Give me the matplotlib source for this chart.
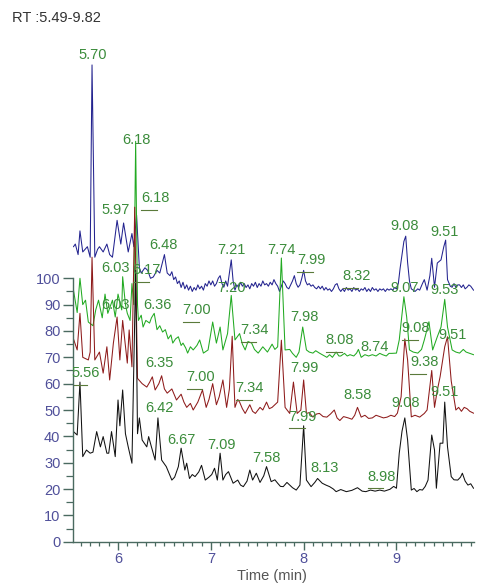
import numpy as np
import matplotlib
matplotlib.use('Agg')
import matplotlib.pyplot as plt

# retention time window shown on the x axis
rt_min, rt_max = 5.515, 9.83

# --- traces (time in min, relative abundance) ---
blue_t = [5.52, 5.54, 5.57, 5.59, 5.62, 5.67, 5.70, 5.72, 5.75, 5.78, 5.80, 5.84, 5.88, 5.91, 5.94, 5.99,
          6.03, 6.06, 6.11, 6.15, 6.17, 6.20, 6.23, 6.25, 6.29, 6.32, 6.35, 6.38, 6.42, 6.45, 6.50,
          6.53, 6.56, 6.58, 6.60, 6.62, 6.64, 6.66, 6.68, 6.70, 6.72, 6.74, 6.76, 6.78, 6.80, 6.82, 6.84,
          6.86, 6.88, 6.90, 6.92, 6.94, 6.96, 6.98, 7.00, 7.02, 7.04, 7.06, 7.08, 7.10, 7.12, 7.14, 7.16,
          7.18, 7.20, 7.22, 7.24, 7.26, 7.28, 7.30, 7.32, 7.34, 7.36, 7.38, 7.40, 7.42, 7.44, 7.46, 7.48,
          7.50, 7.52, 7.54, 7.56, 7.58, 7.60, 7.62, 7.64, 7.66, 7.68, 7.70, 7.72, 7.74, 7.76, 7.78, 7.80,
          7.82, 7.84, 7.86, 7.88, 7.90, 7.92, 7.94, 7.96, 7.98, 8.00, 8.02, 8.04, 8.06, 8.08, 8.10, 8.12,
          8.14, 8.16, 8.18, 8.20, 8.22, 8.24, 8.26, 8.28, 8.30, 8.32, 8.34, 8.36, 8.38, 8.40, 8.42, 8.44,
          8.46, 8.48, 8.50, 8.52, 8.54, 8.56, 8.58, 8.60, 8.62, 8.64, 8.66, 8.68, 8.70, 8.72, 8.74, 8.76,
          8.78, 8.80, 8.82, 8.84, 8.86, 8.88, 8.90, 8.92, 8.94, 8.96, 8.98, 9.00, 9.02, 9.04, 9.06, 9.08,
          9.10, 9.12, 9.14, 9.16, 9.20, 9.23, 9.25, 9.28, 9.30, 9.33, 9.36, 9.38, 9.41, 9.44, 9.48, 9.51,
          9.53, 9.55, 9.58, 9.60, 9.62, 9.64, 9.66, 9.68, 9.70, 9.72, 9.74, 9.76, 9.78, 9.80, 9.83]
blue_v = [112, 113, 109, 118, 110, 112, 108, 181, 108, 111, 112, 110, 113, 109, 108, 122,
          113, 121, 110, 117, 112, 124, 104, 102, 104, 103, 100, 100.5, 103, 102, 109,
          102, 101, 102.5, 99.5, 100.5, 98, 99, 96.5, 98.5, 96, 97.5, 95.5, 97, 95, 96.5, 95.5,
          97.5, 96, 97, 95.5, 98, 97, 99, 97.5, 99, 97, 98, 100, 101, 98, 96.6, 99,
          97, 102, 107, 99, 95.5, 97.5, 96.5, 98.5, 97, 98, 96.5, 97.5, 96, 98, 97, 98.5,
          96.5, 98, 97, 99, 97.5, 98, 97, 98.5, 97.5, 99.5, 98, 97, 95, 97, 99, 98,
          96.5, 96, 97.5, 99, 101, 98, 96.6, 97.5, 100, 103, 99, 97.5, 98, 97, 97.5, 96.5,
          96, 97, 96, 97, 95.5, 96.5, 95.5, 96, 95, 96, 97.5, 98, 96, 95, 96, 95,
          96.5, 95.5, 96, 95, 96.5, 95.5, 96, 95, 96, 95.5, 96.5, 95, 96, 95, 96.5, 95.5,
          96, 95, 96, 95.5, 96, 95, 96, 95.5, 96, 95.5, 96.5, 96, 98, 104, 109, 114,
          116, 106, 99, 96, 95, 96, 95.5, 98, 99.5, 95.5, 101, 107.6, 96.6, 105.8, 107, 112,
          114.5, 99.5, 97, 96.6, 98, 96.5, 97.5, 97.5, 96.5, 97.5, 96, 96.6, 97.5, 97, 95.5]

green_t = [5.52, 5.56, 5.59, 5.62, 5.65, 5.68, 5.73, 5.76, 5.79, 5.83, 5.86, 5.89, 5.94, 5.97, 6.00, 6.04,
           6.05, 6.08, 6.10, 6.13, 6.15, 6.17, 6.19, 6.21, 6.22, 6.25, 6.27, 6.30, 6.34, 6.36, 6.39, 6.42,
           6.45, 6.48, 6.51, 6.54, 6.57, 6.59, 6.62, 6.65, 6.68, 6.70, 6.73, 6.75, 6.78, 6.81, 6.85, 6.88,
           6.92, 6.97, 7.02, 7.06, 7.10, 7.13, 7.18, 7.22, 7.26, 7.31, 7.34, 7.37, 7.40, 7.44, 7.47, 7.51,
           7.56, 7.61, 7.66, 7.69, 7.72, 7.76, 7.80, 7.85, 7.88, 7.92, 7.95, 7.99, 8.03, 8.06, 8.10, 8.13,
           8.17, 8.21, 8.25, 8.28, 8.31, 8.35, 8.38, 8.40, 8.44, 8.47, 8.50, 8.54, 8.57, 8.59, 8.62, 8.66,
           8.70, 8.74, 8.78, 8.82, 8.85, 8.89, 8.92, 8.95, 9.00, 9.03, 9.08, 9.11, 9.14, 9.18, 9.23, 9.27,
           9.30, 9.35, 9.39, 9.44, 9.48, 9.52, 9.55, 9.60, 9.64, 9.68, 9.72, 9.75, 9.79, 9.83]
green_v = [95.5, 87, 100, 90, 91.7, 83.4, 82, 88, 91.7, 85, 94, 86.7, 91.7, 85.3, 94, 88,
           100.6, 90, 86.7, 84, 98, 90, 152, 90, 84, 86, 81.5, 84, 83, 85, 86.7, 80.5,
           82, 79.6, 80.5, 77, 78.5, 75.4, 77, 77.8, 74.5, 75.4, 73.5, 71.6, 74, 72.8, 74.5, 76.6,
           71.6, 72.8, 83.4, 75.4, 81.5, 72.8, 79, 93.5, 76.6, 79, 75, 72.8, 76, 75.4, 73, 71.6,
           74, 72, 75, 73, 74, 107.7, 72.8, 73, 71.5, 70, 72, 81.5, 72.8, 72, 71.6, 72.5,
           71.6, 70.8, 70, 71, 70, 72, 70.5, 70.5, 71.5, 70.5, 71, 70.5, 71.6, 73, 70, 71,
           70.5, 71, 70.5, 71.5, 71, 70.5, 71.5, 71.5, 71.6, 76.6, 93, 85.3, 72.8, 72, 71.6, 73,
           76.6, 83.5, 72.8, 77.8, 81.5, 92, 81.5, 72.8, 72, 71.6, 73, 72, 71.5, 71]

red_t = [5.52, 5.56, 5.59, 5.62, 5.68, 5.70, 5.72, 5.75, 5.80, 5.84, 5.88, 5.91, 5.95, 5.99, 6.02, 6.05,
         6.10, 6.12, 6.15, 6.18, 6.21, 6.26, 6.31, 6.34, 6.37, 6.40, 6.44, 6.47, 6.50, 6.53, 6.58, 6.63,
         6.68, 6.71, 6.74, 6.78, 6.81, 6.86, 6.91, 6.95, 6.98, 7.02, 7.06, 7.09, 7.13, 7.17, 7.20, 7.23,
         7.26, 7.29, 7.31, 7.34, 7.37, 7.42, 7.45, 7.48, 7.53, 7.56, 7.60, 7.63, 7.66, 7.72, 7.76, 7.80,
         7.85, 7.89, 7.93, 7.97, 8.00, 8.03, 8.06, 8.10, 8.14, 8.17, 8.21, 8.25, 8.29, 8.33, 8.36, 8.39,
         8.43, 8.48, 8.52, 8.55, 8.58, 8.62, 8.66, 8.70, 8.74, 8.78, 8.82, 8.86, 8.90, 8.94, 8.98, 9.01,
         9.05, 9.09, 9.12, 9.16, 9.20, 9.25, 9.30, 9.33, 9.38, 9.41, 9.44, 9.47, 9.52, 9.55, 9.59, 9.64,
         9.67, 9.70, 9.73, 9.76, 9.79, 9.83]
red_v = [77, 72.8, 86.7, 70, 69, 72, 108, 69, 72, 64, 74, 61.4, 75.4, 85.3, 69, 84,
         67.8, 80.4, 66.4, 127, 62, 60, 58.7, 60.5, 62.6, 57.6, 60, 63, 58, 56.4, 58, 53.8,
         56, 53, 51, 52.5, 50, 53, 57.6, 51, 54, 60, 52, 55, 61.4, 51, 58, 78,
         51, 54, 53, 50.5, 48.7, 52, 49.5, 48.7, 51, 50, 53, 50.5, 51, 53, 76.5, 51,
         48.7, 60.6, 48.7, 50, 61.4, 48.7, 49, 47.3, 48.5, 48.7, 47.5, 47.3, 48.5, 50, 47, 46,
         47.5, 47, 46.5, 48, 51, 47.3, 48, 46.8, 47, 48, 47.5, 47, 47.3, 48, 47.5, 48.8,
         55, 77, 69, 47.4, 48, 47.3, 48.7, 50, 65, 51, 57.5, 62.6, 74, 77.8, 61, 50,
         51, 49.5, 51, 50.5, 49.5, 48.8]

black_t = [5.52, 5.56, 5.59, 5.62, 5.66, 5.70, 5.73, 5.77, 5.81, 5.84, 5.88, 5.90, 5.93, 5.97, 6.00, 6.02,
           6.05, 6.08, 6.11, 6.15, 6.19, 6.21, 6.23, 6.26, 6.31, 6.33, 6.36, 6.40, 6.43, 6.47, 6.52, 6.58,
           6.61, 6.65, 6.68, 6.72, 6.74, 6.77, 6.80, 6.83, 6.87, 6.90, 6.94, 6.98, 7.01, 7.04, 7.07, 7.10,
           7.13, 7.16, 7.19, 7.24, 7.29, 7.32, 7.35, 7.39, 7.42, 7.45, 7.49, 7.53, 7.57, 7.60, 7.65, 7.69,
           7.72, 7.75, 7.78, 7.82, 7.85, 7.88, 7.92, 7.96, 8.00, 8.03, 8.08, 8.12, 8.15, 8.20, 8.24, 8.28,
           8.32, 8.35, 8.40, 8.46, 8.52, 8.58, 8.63, 8.67, 8.72, 8.77, 8.82, 8.87, 8.93, 8.97, 9.00, 9.03,
           9.06, 9.09, 9.12, 9.16, 9.19, 9.22, 9.25, 9.28, 9.31, 9.34, 9.38, 9.41, 9.43, 9.47, 9.50, 9.52,
           9.55, 9.59, 9.62, 9.66, 9.69, 9.71, 9.74, 9.77, 9.80, 9.83]
black_v = [41.8, 40.5, 60.6, 32.3, 34.8, 33.6, 34, 41.8, 36, 39.9, 33.6, 33.6, 41.8, 32.3, 53.8, 44,
           57.6, 41, 36, 29.8, 103, 41, 47, 38.6, 36, 39.9, 36, 31, 47, 31, 28.5, 23.4,
           24.5, 28.5, 35.5, 27.2, 29.8, 24, 25.5, 24.7, 26.5, 29, 23.4, 24.5, 25.5, 27.9, 23.4, 33.6,
           23.4, 25.5, 26.6, 22.2, 23.4, 21.5, 20.9, 23, 27.2, 23.4, 26, 22.5, 25, 28.5, 22.8, 23.5,
           22.2, 21, 20.9, 22.5, 21.5, 20.5, 19.6, 21.5, 44, 23.4, 20.9, 22.5, 24, 22.2, 21.5, 20.9,
           20, 19, 19.8, 19, 19.5, 20.5, 19.2, 19, 19.6, 19.2, 19.6, 19.2, 19.9, 21, 20.3, 33.6,
           42, 47, 38.6, 19.6, 20.2, 19, 19.8, 19.6, 21, 23.4, 40.5, 34.8, 20.3, 37.4, 37.4, 53,
           36, 24.7, 23.5, 23.4, 24.5, 26, 23, 21.5, 22, 20.3]

# --- peak labels ---
lbl_text = ['5.70', '6.18', '5.97', '6.18', '6.48', '7.21', '7.74', '7.99', '8.32', '9.08', '9.51',
            '6.03', '6.17', '7.20', '9.07', '9.53',
            '6.03', '6.36', '7.00', '7.34', '7.98', '8.08', '8.74', '9.08', '9.51',
            '5.56', '6.35', '7.00', '7.34', '7.99', '8.58', '9.38', '9.08', '9.51',
            '7.99', '6.42', '6.67', '7.09', '7.58', '8.13', '8.98']
lbl_t = [5.73, 6.20, 5.97, 6.40, 6.49, 7.22, 7.76, 8.08, 8.57, 9.09, 9.52,
         5.97, 6.31, 7.22, 9.09, 9.52,
         5.97, 6.42, 6.85, 7.47, 8.01, 8.39, 8.76, 9.21, 9.60,
         5.65, 6.45, 6.89, 7.42, 8.01, 8.58, 9.30, 9.10, 9.52,
         7.99, 6.45, 6.68, 7.12, 7.60, 8.23, 8.84]
lbl_v = [184.8, 152.5, 125.9, 130.4, 112.6, 110.7, 110.7, 107, 101, 120, 117.7,
         103.8, 103.2, 96.3, 96.3, 95.6,
         89.9, 89.9, 88, 80.4, 85.4, 76.6, 74, 81, 78.4,
         63.9, 67.7, 62.6, 58.2, 66, 55.7, 68.3, 52.5, 57,
         47.5, 50.6, 38.6, 36.7, 31.7, 27.9, 24.7]
# labels drawn with a short leader line (index into the lists above)
lbl_lead = [3, 7, 8, 12, 18, 19, 21, 23, 25, 27, 28, 31, 34, 40]

axis_col = '#4a6a60'
tick_col = '#50509a'
lbl_col = '#3b8c3b'
font = ['Liberation Sans', 'DejaVu Sans']

fig = plt.figure(figsize=(4.8, 5.85), dpi=100)
ax = fig.add_axes([73 / 480, 43.3 / 585, 400.5 / 480, 526.8 / 585])

ax.plot(blue_t, blue_v, color='#23238f', lw=0.75)
ax.plot(green_t, green_v, color='#22aa22', lw=0.75)
ax.plot(red_t, red_v, color='#8e1b1b', lw=0.75)
ax.plot(black_t, black_v, color='#111111', lw=0.75)

for i, (txt, t, v) in enumerate(zip(lbl_text, lbl_t, lbl_v)):
    ax.text(t, v, txt, color=lbl_col, fontsize=10.5, ha='center', va='center', family=font)
    if i in lbl_lead:
        ax.plot([t - 0.15, t + 0.02], [v - 4.5, v - 4.5], color='#5a7a3a', lw=0.8)

ax.set_xlim(rt_min, rt_max)
ax.set_ylim(0, 200)
for s in ['top', 'right']:
    ax.spines[s].set_visible(False)
ax.spines['left'].set_bounds(0, 100)
ax.spines['left'].set_color(axis_col)
ax.spines['bottom'].set_color(axis_col)
ax.spines['left'].set_linewidth(1.0)
ax.spines['bottom'].set_linewidth(1.0)

ax.set_yticks(np.arange(0, 101, 10))
ax.set_yticks(np.arange(0, 101, 5), minor=True)
ax.set_xticks([6, 7, 8, 9])
ax.set_xticks(np.arange(5.6, 9.85, 0.1), minor=True)
ax.tick_params(axis='both', which='major', colors=axis_col, labelcolor=tick_col,
               labelsize=10.5, width=1.0)
ax.tick_params(axis='y', which='major', length=7, pad=2)
ax.tick_params(axis='x', which='major', length=6, pad=1.5)
ax.tick_params(axis='y', which='minor', colors=axis_col, length=5, width=0.9)
ax.tick_params(axis='x', which='minor', colors=axis_col, length=3, width=0.9)
for lab in ax.get_xticklabels() + ax.get_yticklabels():
    lab.set_family(font)

fig.text(272 / 480, 1 - 576 / 585, 'Time (min)', color='#555555', fontsize=10.5,
         ha='center', va='center', family=font)
fig.text(12 / 480, 1 - 17.5 / 585, 'RT :5.49-9.82', color='#333333', fontsize=10.5,
         va='center', ha='left', family=font)

fig.savefig('out.png', dpi=100)
